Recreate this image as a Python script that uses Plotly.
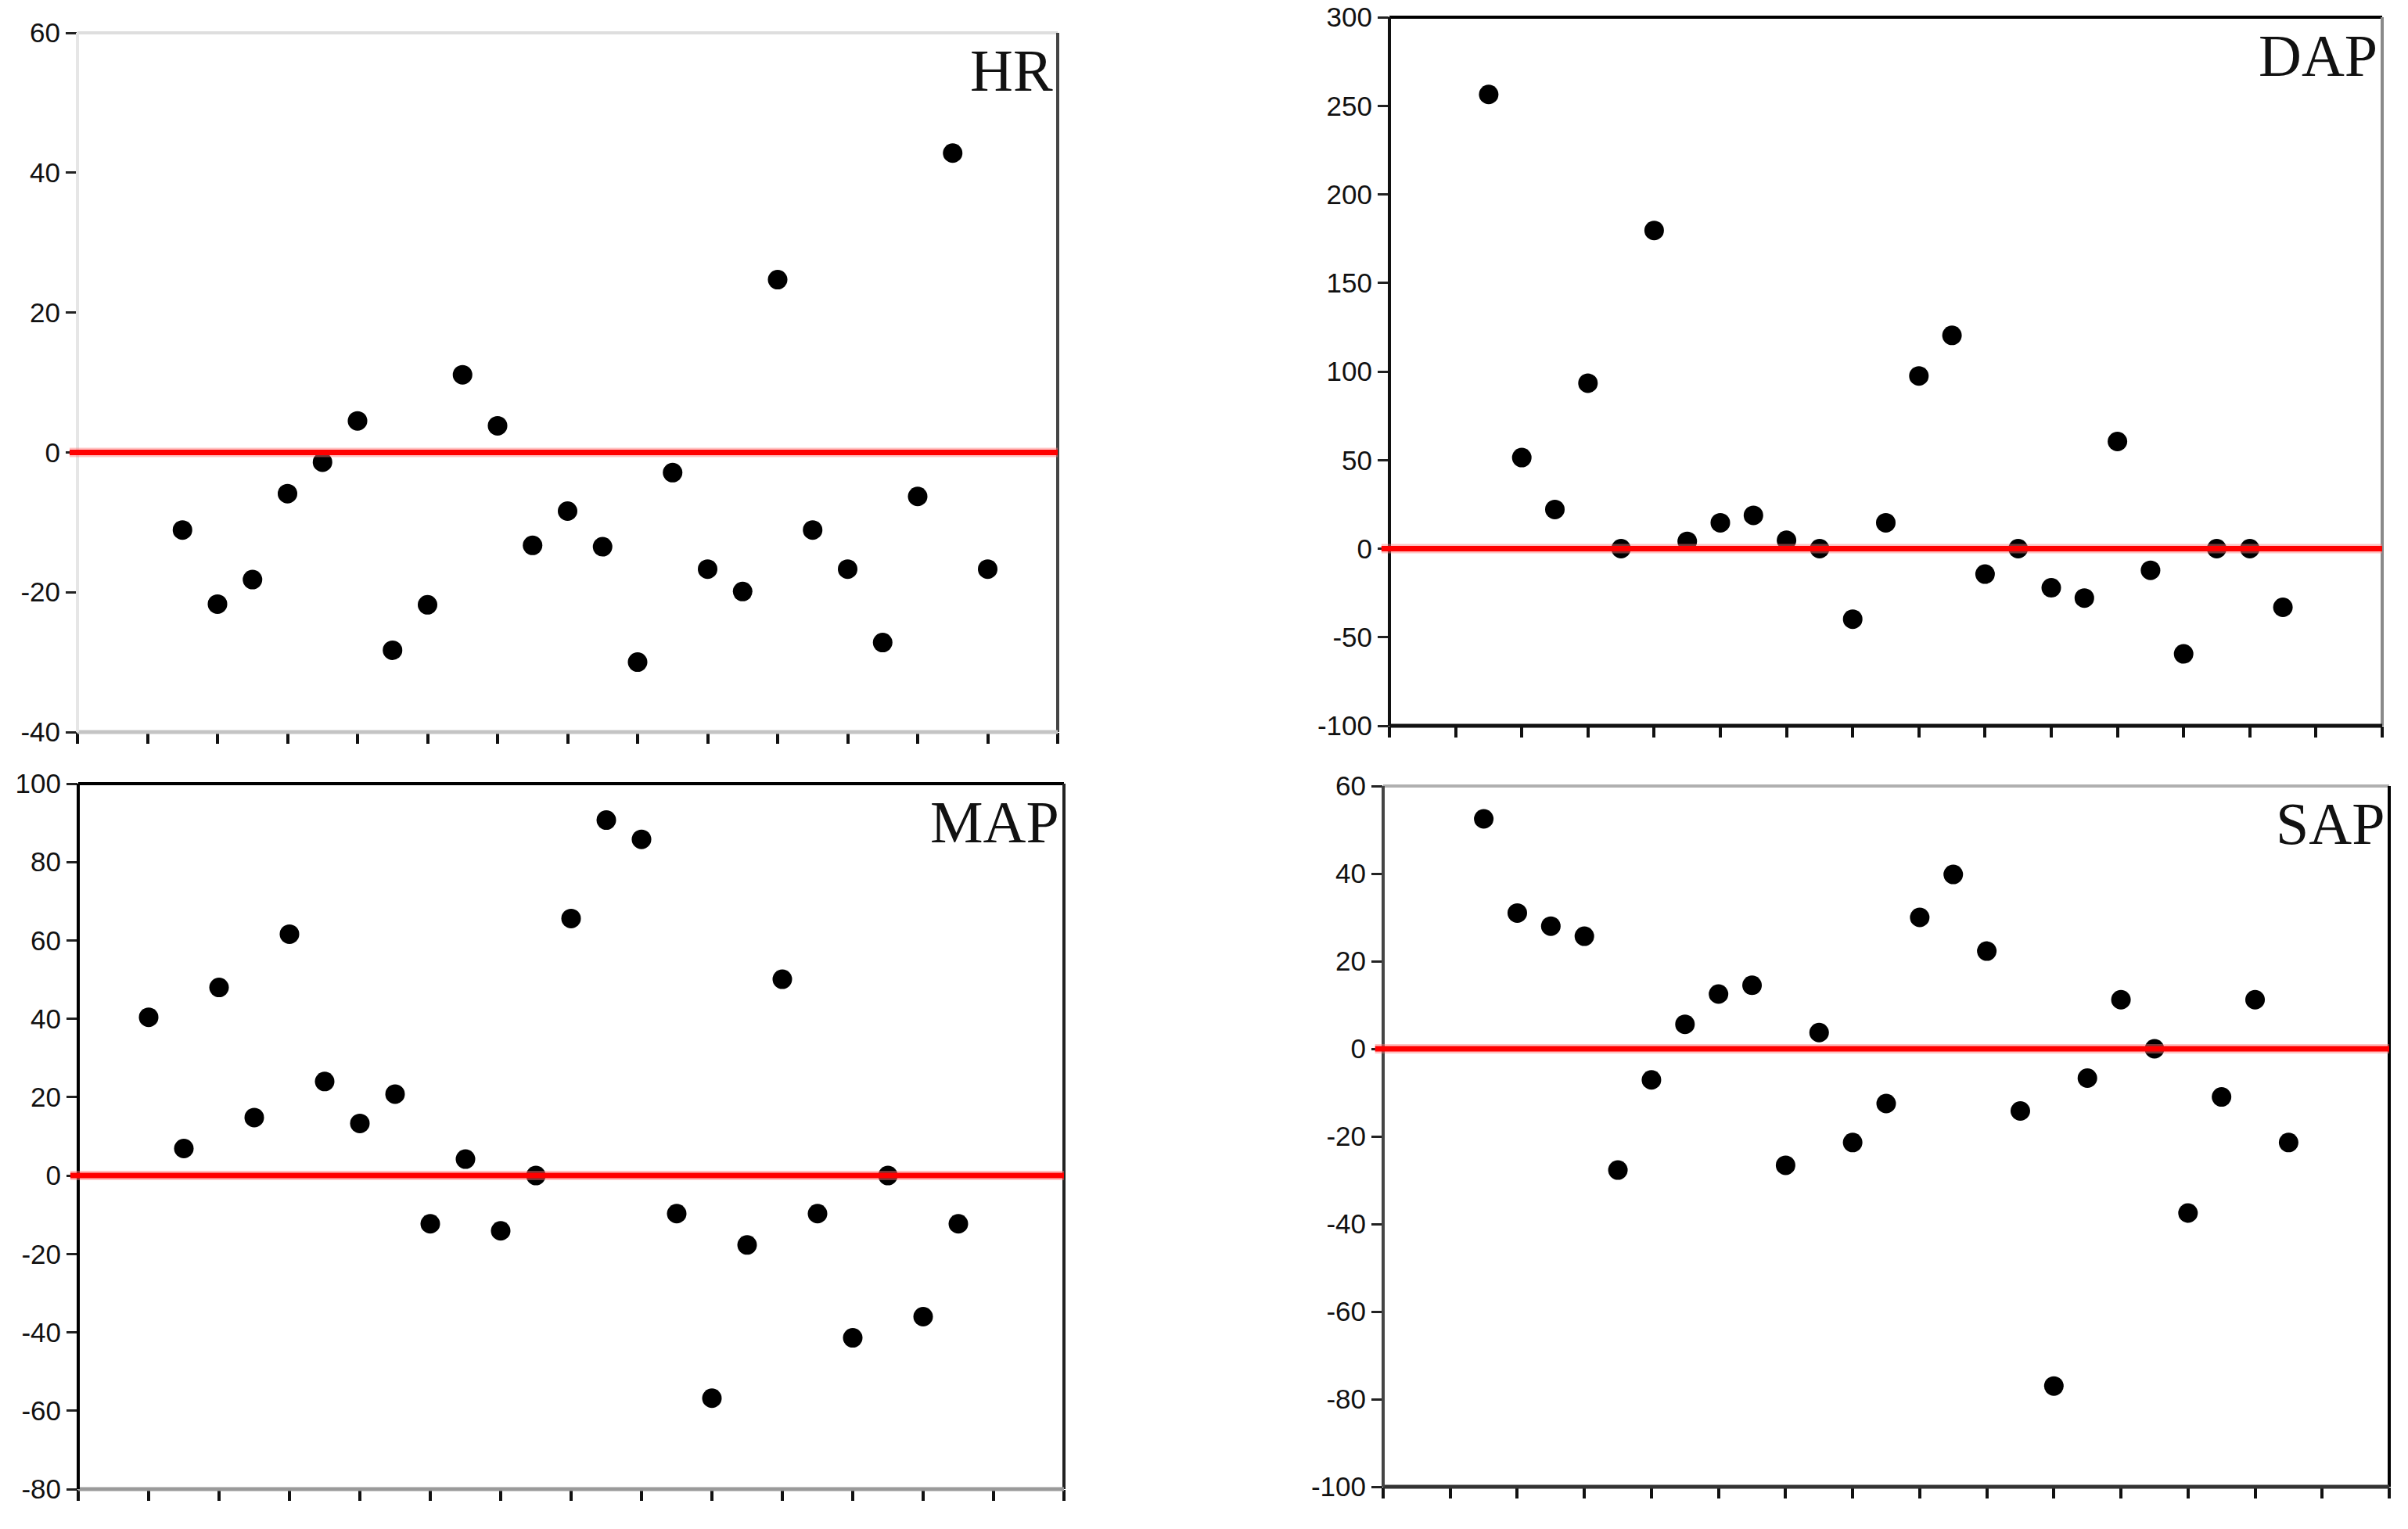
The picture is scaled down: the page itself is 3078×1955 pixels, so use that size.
import plotly.graph_objects as go

# ---------------- data ----------------
hr_x = list(range(3, 27))
hr_y = [-11.1, -21.7, -18.2, -5.9, -1.4, 4.5, -28.3, -21.8, 11.1, 3.8, -13.3, -8.4,
        -13.5, -30.0, -2.9, -16.7, -19.9, 24.7, -11.1, -16.7, -27.2, -6.3, 42.8, -16.7]

dap_x = list(range(3, 28))
dap_y = [256.4, 51.4, 22.1, 93.4, 0, 179.6, 4.1, 14.6, 18.8, 4.7, 0, -39.8, 14.6,
         97.5, 120.4, -14.4, 0, -22.1, -27.9, 60.5, -12.2, -59.4, 0, 0, -33.1]

map_x = list(range(2, 26))
map_y = [40.4, 6.9, 48.0, 14.8, 61.6, 24.0, 13.3, 20.8, -12.3, 4.2, -14.1, 0,
         65.6, 90.7, 85.8, -9.7, -56.8, -17.7, 50.1, -9.7, -41.4, 0, -36.0, -12.3]

sap_x = list(range(3, 28))
sap_y = [52.5, 31.0, 28.0, 25.7, -27.7, -7.1, 5.6, 12.5, 14.5, -26.6, 3.7, -21.4,
         -12.5, 30.0, 39.8, 22.3, -14.2, -77.0, -6.7, 11.2, 0, -37.5, -11.0, 11.2, -21.4]

panel_titles = ["HR", "DAP", "MAP", "SAP"]
hr_ticks = [-40, -20, 0, 20, 40, 60]
dap_ticks = [-100, -50, 0, 50, 100, 150, 200, 250, 300]
map_ticks = [-80, -60, -40, -20, 0, 20, 40, 60, 80, 100]
sap_ticks = [-100, -80, -60, -40, -20, 0, 20, 40, 60]

# ---------------- layout geometry ----------------
W, H = 3078, 1955

def px_dom_x(a, b):
    return [a / W, b / W]

def px_dom_y(top, bottom):
    return [1 - bottom / H, 1 - top / H]

panels = [
    dict(x=hr_x, y=hr_y, xr=[0, 28], ticks=hr_ticks, xd=(99, 1352), yd=(42, 936),
         border=("#dedede", "#444444", "#c4c4c4", "#e6e6e6")),
    dict(x=dap_x, y=dap_y, xr=[0, 30], ticks=dap_ticks, xd=(1776, 3045), yd=(22, 928),
         border=("#000000", "#8a8a8a", "#111111", "#111111")),
    dict(x=map_x, y=map_y, xr=[0, 28], ticks=map_ticks, xd=(100, 1360), yd=(1002, 1904),
         border=("#000000", "#222222", "#9a9a9a", "#000000")),
    dict(x=sap_x, y=sap_y, xr=[0, 30], ticks=sap_ticks, xd=(1768, 3054), yd=(1005, 1901),
         border=("#b0b0b0", "#000000", "#333333", "#444444")),
]

fig = go.Figure()
shapes = []
annotations = []
tickfont = dict(family="Liberation Sans, Arial, sans-serif", size=35, color="#111111")

for i, p in enumerate(panels):
    n = "" if i == 0 else str(i + 1)
    xa, ya = "x" + n, "y" + n
    fig.add_trace(go.Scatter(
        x=p["x"], y=p["y"], mode="markers", xaxis=xa, yaxis=ya,
        marker=dict(color="black", size=25, line=dict(width=0)),
        showlegend=False, hoverinfo="x+y"))

    fig.layout["xaxis" + n] = dict(
        domain=px_dom_x(*p["xd"]), range=p["xr"], anchor=ya, automargin=False,
        tickmode="linear", tick0=0, dtick=2, showticklabels=False,
        ticks="outside", ticklen=14, tickwidth=4, tickcolor="#111111",
        showline=False, showgrid=False, zeroline=False, fixedrange=True)
    fig.layout["yaxis" + n] = dict(
        domain=px_dom_y(*p["yd"]), range=[p["ticks"][0], p["ticks"][-1]], anchor=xa,
        automargin=False,
        tickmode="array", tickvals=p["ticks"], ticktext=[str(t) for t in p["ticks"]],
        ticks="outside", ticklen=14, tickwidth=3, tickcolor="#222222",
        ticklabelstandoff=0, tickfont=tickfont,
        showline=False, showgrid=False, zeroline=False, fixedrange=True)

    xdr, ydr = xa + " domain", ya + " domain"
    top, right, bottom, left = p["border"]
    shapes.append(dict(type="line", xref=xdr, yref=ydr, x0=0, x1=1, y0=1, y1=1,
                       line=dict(color=top, width=4), layer="above"))
    shapes.append(dict(type="line", xref=xdr, yref=ydr, x0=1, x1=1, y0=0, y1=1,
                       line=dict(color=right, width=4), layer="above"))
    shapes.append(dict(type="line", xref=xdr, yref=ydr, x0=0, x1=1, y0=0, y1=0,
                       line=dict(color=bottom, width=5), layer="above"))
    shapes.append(dict(type="line", xref=xdr, yref=ydr, x0=0, x1=0, y0=0, y1=1,
                       line=dict(color=left, width=4), layer="above"))
    shapes.append(dict(type="line", xref=xdr, yref=ya, x0=-0.008, x1=1.0, y0=0, y1=0,
                       line=dict(color="rgba(255,120,120,0.45)", width=12), layer="above"))
    shapes.append(dict(type="line", xref=xdr, yref=ya, x0=-0.008, x1=1.0, y0=0, y1=0,
                       line=dict(color="#ff0000", width=7), layer="above"))
    annotations.append(dict(
        text=panel_titles[i], xref=xdr, yref=ydr, x=0.997, y=0.995,
        xanchor="right", yanchor="top", showarrow=False,
        font=dict(family="Liberation Serif, Times New Roman, serif", size=76, color="#111111")))

fig.update_layout(
    width=W, height=H, margin=dict(l=0, r=0, t=0, b=0, pad=0, autoexpand=False),
    paper_bgcolor="white", plot_bgcolor="white",
    shapes=shapes, annotations=annotations, showlegend=False)

fig.write_html("out.html", config={"displayModeBar": False})
